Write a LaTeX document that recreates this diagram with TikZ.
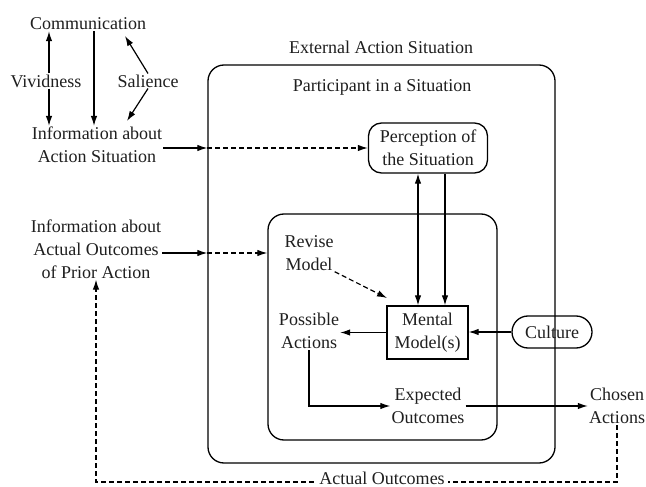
\documentclass[tikz,border=0pt]{standalone}
\usepackage{fontspec}
\setmainfont{Liberation Serif}
\usetikzlibrary{arrows.meta}
\begin{document}
\begin{tikzpicture}[x=1pt,y=-1pt,
  every node/.style={font=\fontsize{18}{23}\selectfont, align=center, inner sep=1pt, text=black!88},
  tip/.tip={Latex[length=10pt,width=6.5pt]},
  link/.style={line width=1.2pt, -tip},
  dlink/.style={link, dash pattern=on 5pt off 3pt},
  frame/.style={draw, line width=1.3pt},
  bigbox/.style={frame, rounded corners=16pt},
  pill/.style={frame, rounded corners=13pt}]

\useasboundingbox[fill=white] (0,0) rectangle (646,487);

% left-hand sources of information
\node (comm) at (88,24) {Communication};
\node (viv) at (46,81) {Vividness};
\node (sal) at (148,81) {Salience};
\node (infoA) at (97,145) {Information about\\Action Situation};
\node (infoB) at (96,249) {Information about\\Actual Outcomes\\of Prior Action};

% nested situation frames
\node (ext) at (381,47) {External Action Situation};
\node[bigbox, minimum width=347pt, minimum height=398pt] (outer) at (381.5,264) {};
\node (part) at (382,87) {Participant in a Situation};
\node[bigbox, minimum width=229pt, minimum height=226pt] (inner) at (382.5,327) {};

% internal elements
\node[pill, minimum width=119pt, minimum height=50pt] (perc) at (428,148) {Perception of\\the Situation};
\node (rev) at (309,253) {Revise\\Model};
\node[frame, minimum width=81pt, minimum height=53pt] (mental) at (427.5,332.5) {Mental\\Model(s)};
\node (poss) at (309,331) {Possible\\Actions};
\node (exp) at (428,406) {Expected\\Outcomes};
\node[pill, rounded corners=16pt, minimum width=80pt, minimum height=32pt] (cult) at (552,332) {Culture};
\node (chosen) at (617,406) {Chosen\\Actions};

% communication cluster
\draw[link] ([xshift=3pt]viv.north) -- ([xshift=3pt]viv.north |- comm.south);
\draw[link] ([xshift=3pt]viv.south) -- ([xshift=3pt]viv.south |- infoA.north);
\draw[link] (comm.south -| 94,0) -- (infoA.north -| 94,0);
\draw[link] (sal.north) -- (125,36);
\draw[link] (sal.south) -- (127,121);

% information entering the situation
\draw[link] (infoA.east |- perc.west) -- (outer.west |- perc.west);
\draw[dlink] (outer.west |- perc.west) -- (perc.west);
\draw[link] (infoB.east |- 0,253) -- (outer.west |- 0,253);
\draw[dlink] (outer.west |- 0,253) -- (inner.west |- 0,253);

% perception and mental model
\draw[line width=1.2pt, tip-tip] (mental.north -| 418,0) -- (perc.south -| 418,0);
\draw[link] (perc.south -| 445,0) -- (mental.north -| 445,0);
\draw[dlink] (rev.south east) -- (387,298);
\draw[link] (mental.west) -- (poss.east |- mental.west);
\draw[link] (cult.west) -- (mental.east |- cult.west);

% towards action
\draw[link] (poss.south) |- (exp.west);
\draw[link] (exp.east) -- (chosen.west |- exp.east);

% feedback of actual outcomes
\coordinate (loop) at (0,482);
\draw[dlink] (chosen.south) -- (chosen.south |- loop) -- (infoB.south |- loop) -- (infoB.south);
\node[fill=white, inner xsep=3pt, inner ysep=0pt] (actual) at (382,478) {Actual Outcomes};
\end{tikzpicture}
\end{document}
